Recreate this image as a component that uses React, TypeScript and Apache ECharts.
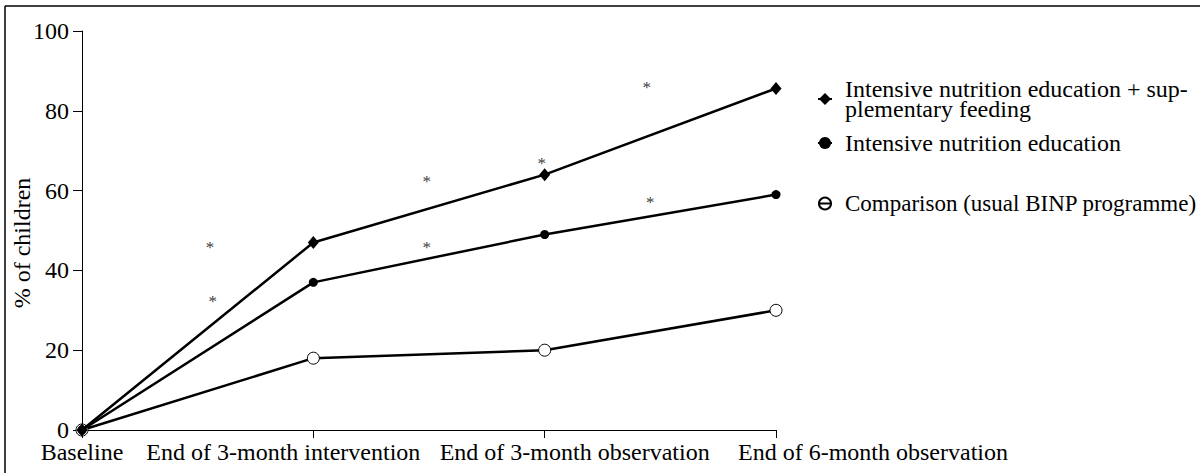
import React, { useEffect, useRef } from "react";
import * as echarts from "echarts";

const categories = [
  "Baseline",
  "End of 3-month intervention",
  "End of 3-month observation",
  "End of 6-month observation",
];
const labelShift = [0, -30, 30, 97];

const seriesNames = [
  "Intensive nutrition education + sup-\nplementary feeding",
  "Intensive nutrition education",
  "Comparison (usual BINP programme)",
];
const feedingValues = [0, 47, 64, 85.6];
const educationValues = [0, 37, 49, 59];
const comparisonValues = [0, 18, 20, 30];

const starX = [0.553, 0.565, 1.49, 1.49, 1.987, 2.441, 2.456];
const starY = [46.4, 33, 63.1, 46.5, 67.5, 86.7, 57.8];

const yTicks = [0, 20, 40, 60, 80, 100];
const yAxisTitle = "% of children";

const FONT = "Liberation Serif";

const toPoints = (vals: number[]) => vals.map((v, i) => [i, v]);

export default function App() {
  const ref = useRef<HTMLDivElement>(null);
  useEffect(() => {
    if (!ref.current) return;
    const chart = echarts.init(ref.current, undefined, { renderer: "svg" });
    const rich: Record<string, any> = {};
    labelShift.forEach((s, i) => {
      rich["c" + i] = {
        fontFamily: FONT,
        fontSize: 24,
        color: "#000",
        padding: s >= 0 ? [0, 0, 0, 2 * s] : [0, -2 * s, 0, 0],
      };
    });
    const legendText = (size: number) => ({
      fontFamily: FONT,
      fontSize: size,
      lineHeight: 20,
      color: "#000",
      padding: [0, 0, 0, 8],
    });
    const legendBase = {
      orient: "vertical",
      left: 812,
      itemWidth: 14,
      itemHeight: 15,
      selectedMode: false,
    };
    chart.setOption({
      animation: false,
      backgroundColor: "#fff",
      textStyle: { fontFamily: FONT },
      grid: { left: 82, right: 424, top: 31, bottom: 43, outerBoundsMode: "none", containLabel: false },
      xAxis: {
        type: "value",
        min: 0,
        max: 3,
        interval: 1,
        splitLine: { show: false },
        axisLine: { show: true, lineStyle: { color: "#000", width: 1 } },
        axisTick: { show: true, length: 8, lineStyle: { color: "#000" } },
        axisLabel: {
          margin: 10,
          fontFamily: FONT,
          fontSize: 24,
          color: "#000",
          formatter: (v: number) => {
            const i = Math.round(v);
            return `{c${i}|${categories[i]}}`;
          },
          rich,
        },
      },
      yAxis: {
        type: "value",
        min: 0,
        max: 100,
        interval: 20,
        splitLine: { show: false },
        axisLine: { show: true, lineStyle: { color: "#000", width: 1 } },
        axisTick: { show: true, length: 9, lineStyle: { color: "#000" } },
        axisLabel: {
          margin: 13,
          fontFamily: FONT,
          fontSize: 24,
          color: "#000",
          formatter: (v: number) => (yTicks.includes(v) ? String(v) : ""),
        },
      },
      legend: [
        {
          ...legendBase,
          top: 72,
          textStyle: legendText(24),
          data: [{ name: seriesNames[0] }],
        },
        {
          ...legendBase,
          top: 126,
          textStyle: legendText(24),
          data: [{ name: seriesNames[1] }],
        },
        {
          ...legendBase,
          top: 187,
          textStyle: legendText(23),
          data: [{ name: seriesNames[2], itemStyle: { color: "rgba(0,0,0,0)" } }],
        },
      ],
      series: [
        {
          name: seriesNames[2],
          type: "line",
          data: toPoints(comparisonValues),
          symbol: "circle",
          symbolSize: 12,
          showAllSymbol: true,
          lineStyle: { color: "#000", width: 2.5 },
          itemStyle: { color: "#fff", borderColor: "#000", borderWidth: 1 },
          z: 2,
        },
        {
          name: seriesNames[1],
          type: "line",
          data: toPoints(educationValues),
          symbol: "circle",
          symbolSize: 9,
          lineStyle: { color: "#000", width: 2.5 },
          itemStyle: { color: "#000" },
          z: 3,
        },
        {
          name: seriesNames[0],
          type: "line",
          data: toPoints(feedingValues),
          symbol: "diamond",
          symbolSize: [11, 13],
          lineStyle: { color: "#000", width: 2.5 },
          itemStyle: { color: "#000" },
          z: 4,
        },
        {
          name: "significance",
          type: "scatter",
          data: starX.map((x, i) => [x, starY[i]]),
          symbolSize: 1,
          itemStyle: { color: "rgba(0,0,0,0)" },
          label: {
            show: true,
            position: "inside",
            formatter: "*",
            fontFamily: FONT,
            fontSize: 17,
            color: "#000",
            textBorderWidth: 0,
            textBorderColor: "transparent",
            offset: [0, 3],
          },
          z: 5,
        },
      ],
      graphic: [
        {
          type: "line",
          shape: { x1: 5, y1: 6, x2: 1200, y2: 6 },
          style: { stroke: "#000", lineWidth: 1.5 },
        },
        {
          type: "line",
          shape: { x1: 5, y1: 6, x2: 5, y2: 473 },
          style: { stroke: "#000", lineWidth: 1.5 },
        },
        {
          type: "text",
          x: 22,
          y: 243,
          rotation: Math.PI / 2,
          style: {
            text: yAxisTitle,
            fontFamily: FONT,
            fontSize: 24,
            fill: "#000",
            align: "center",
            verticalAlign: "middle",
          },
        },
      ],
    });
    return () => chart.dispose();
  }, []);
  return (
    <div
      ref={ref}
      style={{ position: "absolute", left: 0, top: 0, width: 1200, height: 473 }}
    />
  );
}
